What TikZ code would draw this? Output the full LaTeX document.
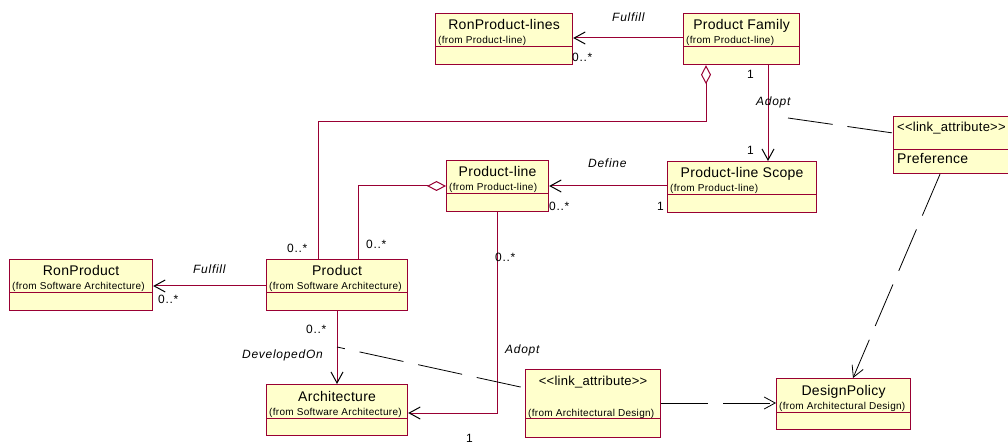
\documentclass[tikz,border=0pt]{standalone}
\usepackage{fontspec}
\setmainfont{Liberation Sans}
\newfontfamily\namefont[LetterSpace=2]{Liberation Sans}
\newfontfamily\pkgfont[LetterSpace=3]{Liberation Sans}
\newfontfamily\labelfont[LetterSpace=6]{Liberation Sans}
\usetikzlibrary{arrows.meta}
\definecolor{umlred}{RGB}{153,0,51}
\definecolor{umlyellow}{RGB}{255,255,204}
\tikzset{
  cls/.style={draw=umlred,fill=umlyellow,line width=1.2pt,anchor=north west,inner sep=0pt,minimum height=51pt},
  sep/.style={draw=umlred,line width=1pt},
  title/.style={anchor=base,inner sep=0pt,font=\namefont\fontsize{14}{16}\selectfont},
  stereo/.style={inner sep=0pt,font=\namefont\fontsize{13}{15}\selectfont},
  from/.style={anchor=base west,inner sep=0pt,font=\pkgfont\fontsize{10}{12}\selectfont},
  role/.style={anchor=base west,inner sep=0pt,font=\labelfont\fontsize{12}{14}\selectfont},
  rel/.style={anchor=base west,inner sep=0pt,font=\labelfont\fontsize{12}{14}\selectfont\itshape},
  assoc/.style={draw=umlred,line width=1pt,-{Straight Barb[length=11pt,width=12pt,black,line width=1pt]}},
  aggr/.style={draw=umlred,line width=1pt,{Diamond[open,length=19pt,width=10pt,fill=white]}-},
  note/.style={line width=0.8pt,dash pattern=on 45pt off 15pt},
  notearrow/.style={note,-{Straight Barb[length=11pt,width=12pt,line width=0.8pt]}},
}
% class box: name, x, y, width, title, package
\newcommand{\umlclass}[6]{%
  \node[cls,minimum width=#4pt] (#1) at (#2,#3) {};
  \draw[sep] ([yshift=-34pt]#1.north west) -- ([yshift=-34pt]#1.north east);
  \node[title] (#1-name) at ([yshift=-17pt]#1.north) {#5};
  \node[from] (#1-from) at ([xshift=3pt,yshift=-31pt]#1.north west) {#6};
}
\begin{document}
\begin{tikzpicture}[x=1pt,y=-1pt]
  \useasboundingbox (0,0) rectangle (1008,443);
  \clip (0,0) rectangle (1008,443);
  % classes
  \umlclass{rpl}{435}{13}{137}{RonProduct-lines}{(from Product-line)}
  \umlclass{pf}{683}{13}{116}{Product Family}{(from Product-line)}
  \umlclass{pl}{446}{160}{102}{Product-line}{(from Product-line)}
  \umlclass{pls}{667}{161}{149}{Product-line Scope}{(from Product-line)}
  \umlclass{rp}{9}{259}{143}{RonProduct}{(from Software Architecture)}
  \umlclass{prod}{266}{259}{141}{Product}{(from Software Architecture)}
  \umlclass{arch}{266}{384}{141}{Architecture}{(from Software Architecture)}
  \umlclass{dp}{776}{378}{134}{DesignPolicy}{(from Architectural Design)}
  % link attributes
  \node[cls,minimum width=130pt,minimum height=57pt] (la1) at (893,116) {};
  \draw[sep] ([yshift=-34pt]la1.north west) -- ([yshift=-34pt]la1.north east);
  \node[stereo,anchor=base west] (la1-name) at (897,132) {{<}{<}link\_attribute{>}{>}};
  \node[title,anchor=base west] (la1-attr) at (897,164) {Preference};
  \node[cls,minimum width=135pt,minimum height=68pt] (la2) at (525,369) {};
  \draw[sep] ([yshift=-49pt]la2.north west) -- ([yshift=-49pt]la2.north east);
  \node[stereo,anchor=base] (la2-name) at ([yshift=-16pt]la2.north) {{<}{<}link\_attribute{>}{>}};
  \node[from] (la2-from) at (528,416) {(from Architectural Design)};
  % associations
  \draw[assoc] (pf.west |- 0,38) -- (rpl.east |- 0,38);
  \draw[aggr] (pf.south -| 706,0) -- (706,122) -- (318,122) -- (prod.north -| 318,0);
  \draw[assoc] (pf.south -| 768,0) -- (pls.north -| 768,0);
  \draw[assoc] (pls.west |- 0,186) -- (pl.east |- 0,186);
  \draw[aggr] (pl.west |- 0,186) -- (358,186) -- (prod.north -| 358,0);
  \draw[assoc] (pl.south -| 497,0) -- (497,413) -- (arch.east |- 0,413);
  \draw[assoc] (prod.west |- 0,286) -- (rp.east |- 0,286);
  \draw[assoc] (prod.south -| 337,0) -- (arch.north -| 337,0);
  % link attribute lines
  \coordinate (adopt1) at (788,118);
  \coordinate (devon) at (337,347);
  \draw[note] (adopt1) -- (la1.west |- 0,133);
  \draw[note,dash phase=37pt] (devon) -- (la2.west |- 0,388);
  \draw[notearrow,dash pattern=on 47pt off 15pt] (la2.east |- 0,403) -- (dp.west |- 0,403);
  \draw[notearrow] (la1.south -| 940,0) -- (dp.north -| 853,0);
  % labels
  \node[rel] (ful1) at (612,22) {Fulfill};
  \node[role] (m1) at (572,62) {0..*};
  \node[role] (m2) at (747,79) {1};
  \node[rel] (adp1) at (756,106) {Adopt};
  \node[role] (m3) at (747,155) {1};
  \node[rel] (def) at (588,168) {Define};
  \node[role] (m4) at (549,211) {0..*};
  \node[role] (m5) at (657,211) {1};
  \node[role] (m6) at (287,253) {0..*};
  \node[role] (m7) at (366,249) {0..*};
  \node[rel] (ful2) at (193,273) {Fulfill};
  \node[role] (m8) at (158,303) {0..*};
  \node[role] (m9) at (306,333) {0..*};
  \node[rel] (dev) at (242,358) {DevelopedOn};
  \node[role] (m10) at (495,262) {0..*};
  \node[rel] (adp2) at (505,353) {Adopt};
  \node[role] (m11) at (466,442) {1};
\end{tikzpicture}
\end{document}
